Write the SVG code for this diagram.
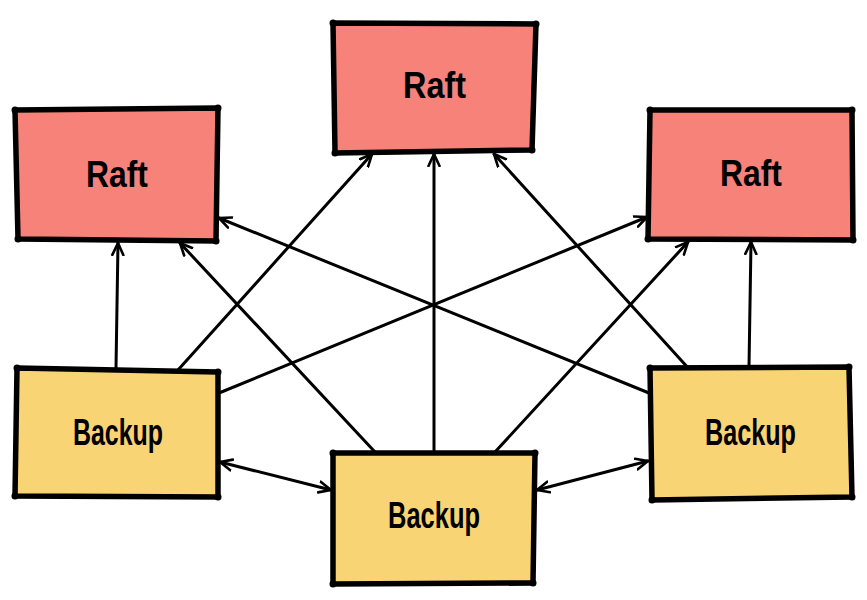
<svg xmlns="http://www.w3.org/2000/svg" width="867" height="600" viewBox="0 0 867 600">
<defs>
<marker id="arr" viewBox="0 0 14 14" refX="13" refY="7" markerWidth="14" markerHeight="14" markerUnits="userSpaceOnUse" orient="auto-start-reverse">
<path d="M1,1.5 L13,7 L1,12.5" fill="none" stroke="#000" stroke-width="2.6" stroke-linecap="round" stroke-linejoin="round"/>
</marker>
</defs>
<style>
.raft{fill:#F6827A;stroke:#000;stroke-width:5.5;stroke-linejoin:round}
.backup{fill:#F9D474;stroke:#000;stroke-width:5.5;stroke-linejoin:round}
.dot{fill:#000}
.lbl{font-family:"Liberation Sans","DejaVu Sans",sans-serif;font-weight:bold;font-size:37px;fill:#000;text-anchor:middle}
.c{stroke:#000;stroke-width:3;fill:none;stroke-linecap:round}
.c1{marker-end:url(#arr)}
.c2{marker-start:url(#arr);marker-end:url(#arr)}
</style>
<g id="connectors">
<line class="c c1" x1="116" y1="368" x2="118" y2="243"/>
<line class="c c1" x1="178" y1="370" x2="372" y2="154"/>
<line class="c c1" x1="219" y1="393" x2="647" y2="217"/>
<line class="c c1" x1="375" y1="452" x2="180" y2="243"/>
<line class="c c1" x1="434" y1="452" x2="434" y2="154"/>
<line class="c c1" x1="495" y1="452" x2="688" y2="242"/>
<line class="c c1" x1="649" y1="393" x2="219" y2="218"/>
<line class="c c1" x1="690" y1="370" x2="494" y2="154"/>
<line class="c c1" x1="749" y1="367" x2="751" y2="242"/>
<line class="c c2" x1="220" y1="462" x2="331" y2="490"/>
<line class="c c2" x1="537" y1="490" x2="648" y2="461"/>
</g>
<g id="raft-left">
<polygon class="raft" points="15,110 218,108 216,241 18,239"/>
<circle class="dot" cx="15" cy="110" r="3.5"/><circle class="dot" cx="218" cy="108" r="3.5"/><circle class="dot" cx="216" cy="241" r="3.5"/><circle class="dot" cx="18" cy="239" r="3.5"/>
<text class="lbl" x="117" y="187" textLength="62" lengthAdjust="spacingAndGlyphs">Raft</text>
</g>
<g id="raft-top">
<polygon class="raft" points="333,23 536,24 532,150 335,153"/>
<circle class="dot" cx="333" cy="23" r="3.5"/><circle class="dot" cx="536" cy="24" r="3.5"/><circle class="dot" cx="532" cy="150" r="3.5"/><circle class="dot" cx="335" cy="153" r="3.5"/>
<text class="lbl" x="434.5" y="98" textLength="63" lengthAdjust="spacingAndGlyphs">Raft</text>
</g>
<g id="raft-right">
<polygon class="raft" points="650,110 852,110 853,240 648,239"/>
<circle class="dot" cx="650" cy="110" r="3.5"/><circle class="dot" cx="852" cy="110" r="3.5"/><circle class="dot" cx="853" cy="240" r="3.5"/><circle class="dot" cx="648" cy="239" r="3.5"/>
<text class="lbl" x="751" y="186" textLength="62" lengthAdjust="spacingAndGlyphs">Raft</text>
</g>
<g id="backup-left">
<polygon class="backup" points="17,368 218,372 218,497 15,496"/>
<circle class="dot" cx="17" cy="368" r="3.5"/><circle class="dot" cx="218" cy="372" r="3.5"/><circle class="dot" cx="218" cy="497" r="3.5"/><circle class="dot" cx="15" cy="496" r="3.5"/>
<text class="lbl" x="118" y="445" textLength="90" lengthAdjust="spacingAndGlyphs">Backup</text>
</g>
<g id="backup-middle">
<polygon class="backup" points="333,453 535,453 533,583 333,584"/>
<circle class="dot" cx="333" cy="453" r="3.5"/><circle class="dot" cx="535" cy="453" r="3.5"/><circle class="dot" cx="533" cy="583" r="3.5"/><circle class="dot" cx="333" cy="584" r="3.5"/>
<text class="lbl" x="434" y="528" textLength="92" lengthAdjust="spacingAndGlyphs">Backup</text>
</g>
<g id="backup-right">
<polygon class="backup" points="650,368 849,367 852,497 652,500"/>
<circle class="dot" cx="650" cy="368" r="3.5"/><circle class="dot" cx="849" cy="367" r="3.5"/><circle class="dot" cx="852" cy="497" r="3.5"/><circle class="dot" cx="652" cy="500" r="3.5"/>
<text class="lbl" x="750.5" y="445" textLength="91" lengthAdjust="spacingAndGlyphs">Backup</text>
</g>
</svg>
